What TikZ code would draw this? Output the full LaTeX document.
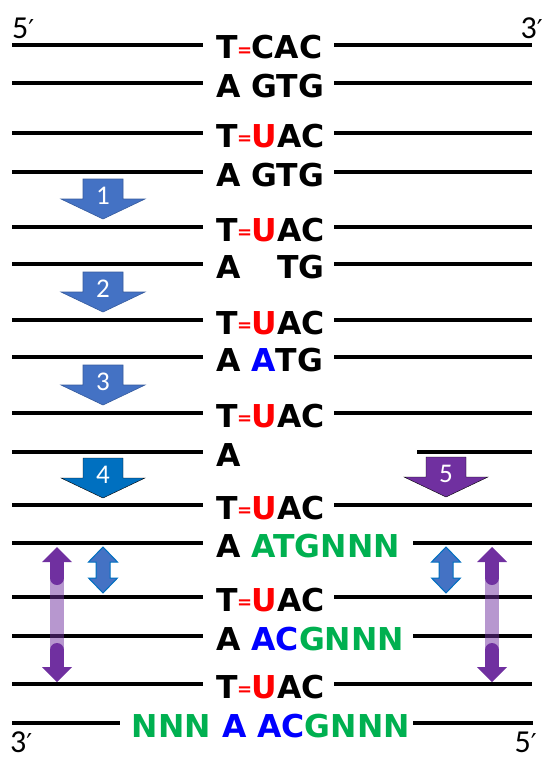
\documentclass[tikz,border=0pt]{standalone}
\usepackage{fontspec}
\setmainfont{DejaVu Sans}
\newfontfamily\endfont{Carlito}
\usetikzlibrary{calc}
\definecolor{ntred}{HTML}{FF0000}
\definecolor{ntblue}{HTML}{0000FF}
\definecolor{ntgreen}{HTML}{00B050}
\definecolor{steplight}{HTML}{4472C4}
\definecolor{stepdark}{HTML}{0070C0}
\definecolor{steppurple}{HTML}{7030A0}
\newcommand\hbond{\kern-0.5pt\raisebox{2.5pt}{\color{ntred}\bfseries\fontsize{18}{18}\selectfont=}\kern-0.5pt}
\newcommand\ured{{\color{ntred}U}}
\newcommand\prm{{\rmfamily\fontsize{26}{26}\selectfont ′}}
\def\downblock[#1](#2,#3)#4{\draw[#1] ({#2-20},#3) -- ({#2+20},#3) -- ({#2+20},{#3+20}) -- ({#2+42},{#3+20}) -- (#2,{#3+40}) -- ({#2-42},{#3+20}) -- ({#2-20},{#3+20}) -- cycle; \node[steplabel] (step#4) at (#2,{#3+17}) {#4};}
\def\twoway[#1](#2:#3:#4){\draw[#1] (#2,#3) -- ({#2+14.5},{#3+15}) -- ({#2+7},{#3+15}) -- ({#2+7},{#4-15}) -- ({#2+14.5},{#4-15}) -- (#2,#4) -- ({#2-14.5},{#4-15}) -- ({#2-7},{#4-15}) -- ({#2-7},{#3+15}) -- ({#2-14.5},{#3+15}) -- cycle;}

\begin{document}
\begin{tikzpicture}[x=1pt, y=-1pt,
	strand/.style={line width=4pt},
	seq/.style={anchor=base west, inner sep=0pt, font=\bfseries\fontsize{31.5}{31.5}\selectfont},
	steplabel/.style={text=white, inner sep=0pt, font=\endfont\fontsize{27}{27}\selectfont},
	endlabel/.style={inner sep=0pt, font=\endfont\fontsize{32}{32}\selectfont}]
			%%%%% START %%%%%
			\useasboundingbox (0,0) rectangle (550,768);
			
			\node[endlabel, anchor=base west] (five top) at (12,38) {5\prm};
			\node[endlabel, anchor=base east] (three top) at (543,38) {3\prm};
			
			\draw[strand] (12,45) -- (203,45);
			\node[seq] (row1) at (216,59) {T\hbond CAC};
			\draw[strand] (334,45) -- (532,45);
			
			\draw[strand] (12,83) -- (203,83);
			\node[seq] (row2) at (216,97) {A GTG};
			\draw[strand] (334,83) -- (532,83);
			
			\draw[strand] (12,133) -- (203,133);
			\node[seq] (row3) at (216,147) {T\hbond\ured AC};
			\draw[strand] (334,133) -- (532,133);
			
			\draw[strand] (12,172) -- (203,172);
			\node[seq] (row4) at (216,186) {A GTG};
			\draw[strand] (334,172) -- (532,172);
			
			\downblock[fill=steplight, draw=steplight!80!black, line width=0.6pt](103,179){1}
			
			\draw[strand] (12,227) -- (203,227);
			\node[seq] (row5) at (216,241) {T\hbond\ured AC};
			\draw[strand] (334,227) -- (532,227);
			
			\draw[strand] (12,264) -- (203,264);
			\node[seq] (row6) at (216,278) {A \phantom{G}TG};
			\draw[strand] (334,264) -- (532,264);
			
			\downblock[fill=steplight, draw=steplight!80!black, line width=0.6pt](103,272){2}
			
			\draw[strand] (12,320) -- (203,320);
			\node[seq] (row7) at (216,334) {T\hbond\ured AC};
			\draw[strand] (334,320) -- (532,320);
			
			\draw[strand] (12,357) -- (203,357);
			\node[seq] (row8) at (216,371) {A {\color{ntblue}A}TG};
			\draw[strand] (334,357) -- (532,357);
			
			\downblock[fill=steplight, draw=steplight!80!black, line width=0.6pt](103,365){3}
			
			\draw[strand] (12,413) -- (203,413);
			\node[seq] (row9) at (216,427) {T\hbond\ured AC};
			\draw[strand] (334,413) -- (532,413);
			
			\draw[strand] (12,452) -- (203,452);
			\node[seq] (row10) at (216,466) {A};
			\draw[strand] (417,452) -- (532,452);
			
			\downblock[fill=stepdark](103,458){4}
			\downblock[fill=steppurple](446,457){5}
			
			\draw[strand] (12,505) -- (203,505);
			\node[seq] (row11) at (216,519) {T\hbond\ured AC};
			\draw[strand] (334,505) -- (532,505);
			
			\draw[strand] (12,543) -- (203,543);
			\node[seq] (row12) at (216,557) {A {\color{ntgreen}ATGNNN}};
			\draw[strand] (413,543) -- (532,543);
			
			\draw[strand] (12,597) -- (203,597);
			\node[seq] (row13) at (216,611) {T\hbond\ured AC};
			\draw[strand] (334,597) -- (532,597);
			
			\draw[strand] (12,636) -- (203,636);
			\node[seq] (row14) at (216,650) {A {\color{ntblue}AC}{\color{ntgreen}GNNN}};
			\draw[strand] (413,636) -- (532,636);
			
			\draw[strand] (12,684) -- (203,684);
			\node[seq] (row15) at (216,698) {T\hbond\ured AC};
			\draw[strand] (334,684) -- (532,684);
			
			\draw[strand] (12,723) -- (120,723);
			\node[seq, anchor=base east] (row16) at (410,737) {{\color{ntgreen}NNN} {\color{ntblue}A AC}{\color{ntgreen}GNNN}};
			\draw[strand] (413,723) -- (533,723);
			
			\node[endlabel, anchor=base west] (three bottom) at (10,752) {3\prm};
			\node[endlabel, anchor=base east] (five bottom) at (537,752) {5\prm};
			
			\twoway[fill=steplight, draw=stepdark, line width=1pt](103:547:593)
			\twoway[fill=steplight, draw=stepdark, line width=1pt](446:547:593)
			
			\draw[line width=14pt, color=steppurple, opacity=0.5] (57,578) -- (57,650);
			\draw[line width=14pt, line cap=round, color=steppurple] (57,560) -- (57,578);
			\fill[steppurple] (57,547) -- (72,562) -- (42,562) -- cycle;
			\draw[line width=14pt, line cap=round, color=steppurple] (57,650) -- (57,669);
			\fill[steppurple] (57,682) -- (72,667) -- (42,667) -- cycle;
			
			\draw[line width=14pt, color=steppurple, opacity=0.5] (492,578) -- (492,650);
			\draw[line width=14pt, line cap=round, color=steppurple] (492,560) -- (492,578);
			\fill[steppurple] (492,547) -- (507,562) -- (477,562) -- cycle;
			\draw[line width=14pt, line cap=round, color=steppurple] (492,650) -- (492,669);
			\fill[steppurple] (492,682) -- (507,667) -- (477,667) -- cycle;
			
			%%%%% END %%%%%
\end{tikzpicture}
\end{document}
